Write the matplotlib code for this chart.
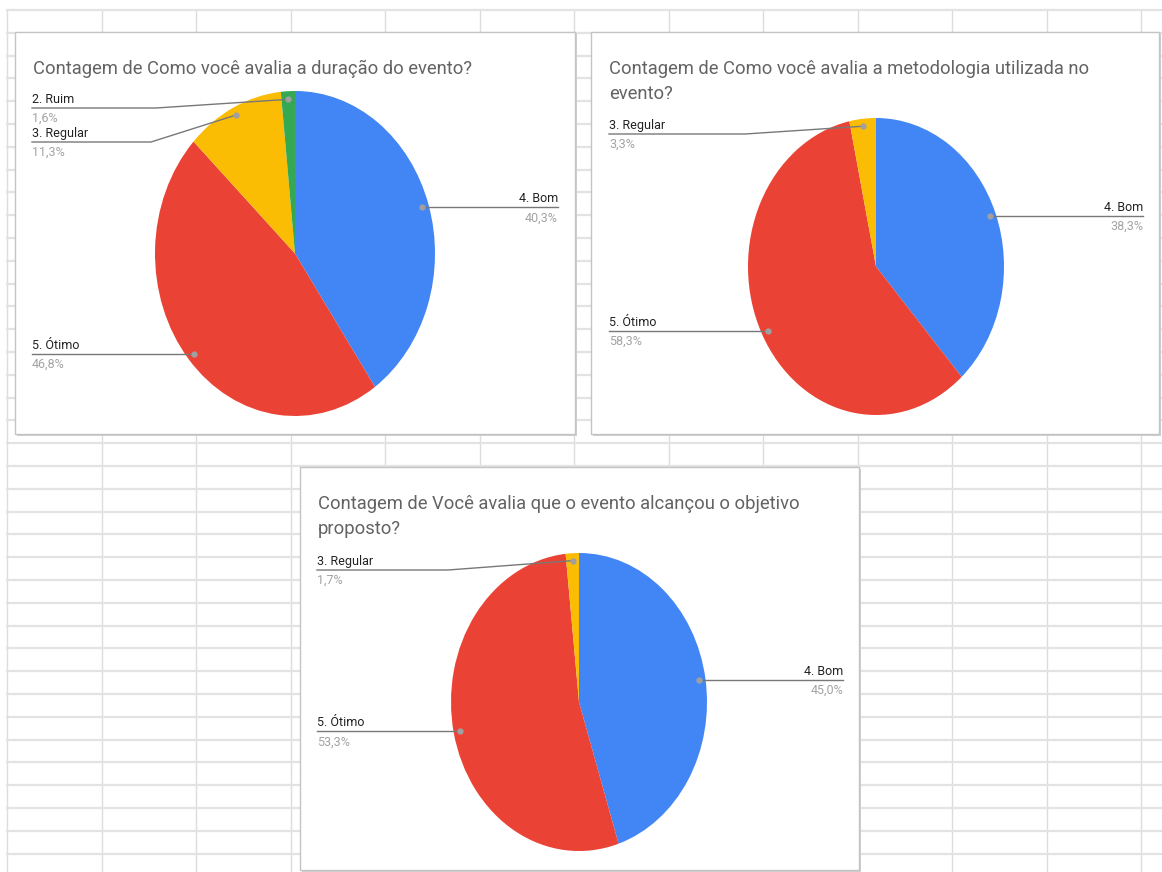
import numpy as np
import matplotlib
matplotlib.use("Agg")
import matplotlib.pyplot as plt
from matplotlib.patches import Rectangle

plt.rcParams['font.family'] = ['Roboto', 'DejaVu Sans']

W, H = 1162, 872

# dados dos três gráficos (contagens das respostas)
titulo_1 = "Contagem de Como você avalia a duração do evento?"
categorias_1 = ["4. Bom", "5. Ótimo", "3. Regular", "2. Ruim"]
contagem_1 = [25, 29, 7, 1]

titulo_2 = "Contagem de Como você avalia a metodologia utilizada no\nevento?"
categorias_2 = ["4. Bom", "5. Ótimo", "3. Regular"]
contagem_2 = [23, 35, 2]

titulo_3 = "Contagem de Você avalia que o evento alcançou o objetivo\nproposto?"
categorias_3 = ["4. Bom", "5. Ótimo", "3. Regular"]
contagem_3 = [27, 32, 1]

CORES = {"4. Bom": "#4285F4", "5. Ótimo": "#EA4335",
         "3. Regular": "#FBBC04", "2. Ruim": "#34A853"}

# layout em pixels: caixa, centro/raios da pizza, posição dos rótulos
graficos = [
    dict(titulo=titulo_1, cats=categorias_1, vals=contagem_1,
         box=(15, 32, 575, 434), cx=295, cy=253.5, rx=140, ry=162.5,
         xl=32, xr=558,
         rotulos={"4. Bom": ("right", None, None), "5. Ótimo": ("left", None, None),
                  "3. Regular": ("left", 142, 151), "2. Ruim": ("left", 108, 156)}),
    dict(titulo=titulo_2, cats=categorias_2, vals=contagem_2,
         box=(591, 32, 1159, 434), cx=876, cy=266.5, rx=128, ry=148.5,
         xl=609, xr=1143,
         rotulos={"4. Bom": ("right", None, None), "5. Ótimo": ("left", None, None),
                  "3. Regular": ("left", 134, 745)}),
    dict(titulo=titulo_3, cats=categorias_3, vals=contagem_3,
         box=(300, 467, 859, 870), cx=579, cy=702, rx=128, ry=149,
         xl=317, xr=843,
         rotulos={"4. Bom": ("right", None, None), "5. Ótimo": ("left", None, None),
                  "3. Regular": ("left", 570, 448)}),
]

fig = plt.figure(figsize=(W / 100, H / 100), dpi=100)
bg = fig.add_axes([0, 0, 1, 1])
bg.set_xlim(0, W)
bg.set_ylim(H, 0)
bg.axis("off")

# grade da planilha
for x in np.arange(7.3, W, 94.5):
    bg.plot([x, x], [10, H], color="#dcdcdc", lw=1, zorder=0)
for y in np.arange(10, H, 22.8):
    bg.plot([7.3, W], [y, y], color="#e3e3e3", lw=1.6, zorder=0)

for g in graficos:
    x0, y0, x1, y1 = g["box"]
    bg.add_patch(Rectangle((x0 + 1.5, y0 + 1.5), x1 - x0, y1 - y0,
                           facecolor="#cfcfcf", edgecolor="none", zorder=1))
    bg.add_patch(Rectangle((x0, y0), x1 - x0, y1 - y0,
                           facecolor="white", edgecolor="#c4c4c4", lw=1, zorder=2))
    for i, linha in enumerate(g["titulo"].split("\n")):
        bg.text(x0 + 18, y0 + 42 + i * 25, linha, fontsize=13.2, color="#636363",
                ha="left", va="baseline", zorder=3)

    cx, cy, rx, ry = g["cx"], g["cy"], g["rx"], g["ry"]
    ax = fig.add_axes([(cx - rx) / W, 1 - (cy + ry) / H, 2 * rx / W, 2 * ry / H])
    ax.pie(g["vals"], colors=[CORES[c] for c in g["cats"]], startangle=90,
           counterclock=False, wedgeprops=dict(linewidth=0))
    ax.set_aspect("auto")
    ax.set_xlim(-1, 1)
    ax.set_ylim(-1, 1)

# camada por cima das pizzas: linhas guia, pontos e rótulos
top = fig.add_axes([0, 0, 1, 1])
top.set_xlim(0, W)
top.set_ylim(H, 0)
top.axis("off")
top.patch.set_alpha(0)


def pct(v, total):
    return f"{100 * v / total:.1f}".replace(".", ",") + "%"


for g in graficos:
    cx, cy, rx, ry = g["cx"], g["cy"], g["rx"], g["ry"]
    total = sum(g["vals"])
    acum = 0
    for cat, v in zip(g["cats"], g["vals"]):
        ang = np.deg2rad(90 - 360 * (acum + v / 2) / total)
        acum += v
        dx = cx + 0.95 * rx * np.cos(ang)
        dy = cy - 0.95 * ry * np.sin(ang)
        lado, ly, bend = g["rotulos"][cat]
        if lado == "right":
            ly = dy
            top.plot([dx, g["xr"]], [dy, dy], color="#787878", lw=1)
            tx, ha = g["xr"], "right"
        else:
            if ly is None:
                ly = dy
                top.plot([g["xl"], dx], [dy, dy], color="#787878", lw=1)
            else:
                top.plot([g["xl"], bend, dx], [ly, ly, dy], color="#787878", lw=1)
            tx, ha = g["xl"], "left"
        top.plot(dx, dy, "o", ms=3.5, color="#a0a0a0")
        top.text(tx, ly - 5, cat, fontsize=9, color="#222222", ha=ha, va="baseline")
        top.text(tx, ly + 14, pct(v, total), fontsize=9, color="#a3a3a3", ha=ha,
                 va="baseline")

fig.savefig("out.png", dpi=100)
